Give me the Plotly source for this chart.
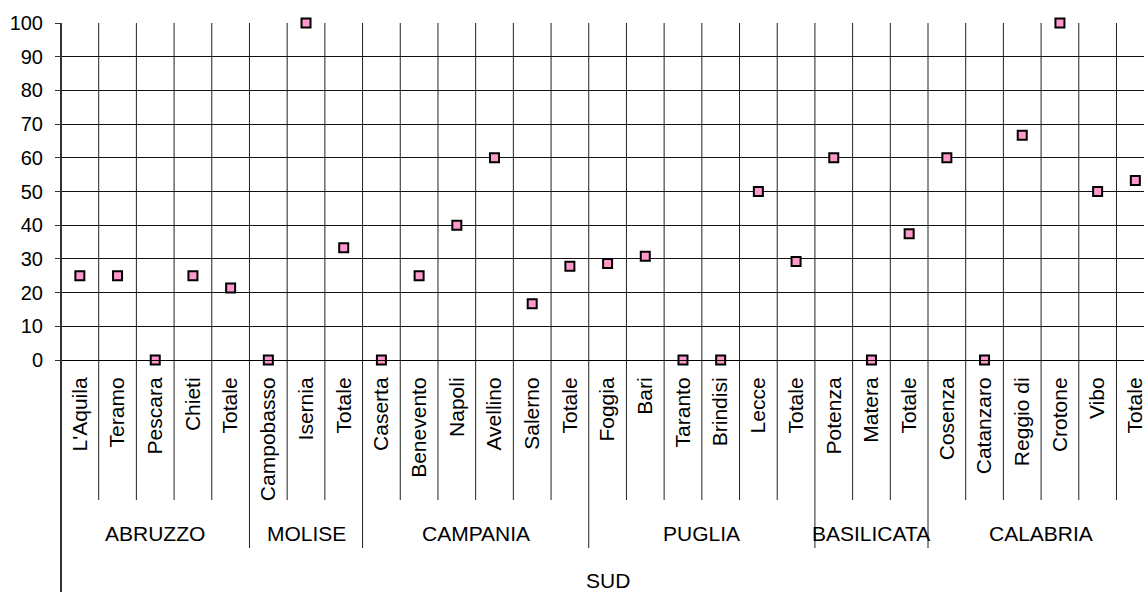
import plotly.graph_objects as go

provinces = ["L'Aquila", "Teramo", "Pescara", "Chieti", "Totale",
             "Campobasso", "Isernia", "Totale",
             "Caserta", "Benevento", "Napoli", "Avellino", "Salerno", "Totale",
             "Foggia", "Bari", "Taranto", "Brindisi", "Lecce", "Totale",
             "Potenza", "Matera", "Totale",
             "Cosenza", "Catanzaro", "Reggio di", "Crotone", "Vibo", "Totale"]
values = [25, 25, 0, 25, 21.4,
          0, 100, 33.3,
          0, 25, 40, 60, 16.7, 27.8,
          28.6, 30.8, 0, 0, 50, 29.2,
          60, 0, 37.5,
          60, 0, 66.7, 100, 50, 53.3]
region_names = ["ABRUZZO", "MOLISE", "CAMPANIA", "PUGLIA", "BASILICATA", "CALABRIA"]
region_sizes = [5, 3, 6, 6, 3, 6]
macro_area = "SUD"
y_ticks = list(range(0, 101, 10))

W, H = 1144, 592
L, T, B = 61, 23, 232
plot_h = H - T - B

def py(pix):  # pixel row -> paper y
    return (H - B - pix) / plot_h

xs = list(range(len(provinces)))
font = "Liberation Sans, Arial, sans-serif"
fs = 21

fig = go.Figure()
fig.add_trace(go.Scatter(
    x=xs, y=values, mode="markers",
    marker=dict(symbol="square", size=9, color="#FF99CC",
                line=dict(color="black", width=2)),
    cliponaxis=False, showlegend=False))

shapes = []
acc = 0
region_bounds = []
for s in region_sizes:
    acc += s
    region_bounds.append(acc - 0.5)
for k in range(1, len(provinces) + 1):
    b = k - 0.5
    low = py(548) if b in region_bounds else py(500)
    shapes.append(dict(type="line", xref="x", yref="paper", x0=b, x1=b,
                       y0=1, y1=low, line=dict(color="#222", width=1), layer="below"))
shapes.append(dict(type="line", xref="paper", yref="paper", x0=0, x1=0,
                   y0=1, y1=py(592), line=dict(color="#333", width=2)))

annotations = []
start = 0
for name, s in zip(region_names, region_sizes):
    c = start + (s - 1) / 2
    annotations.append(dict(x=c, y=py(533), xref="x", yref="paper", text=name,
                            showarrow=False, font=dict(size=fs, color="black", family=font),
                            xanchor="center", yanchor="middle"))
    start += s
annotations.append(dict(x=(len(provinces) - 1) / 2, y=py(580), xref="x", yref="paper",
                        text=macro_area, showarrow=False,
                        font=dict(size=fs, color="black", family=font),
                        xanchor="center", yanchor="middle"))

fig.update_layout(
    width=W, height=H,
    margin=dict(l=L, r=0, t=T, b=B, autoexpand=False),
    paper_bgcolor="white", plot_bgcolor="white",
    shapes=shapes, annotations=annotations,
    font=dict(family=font, color="black"),
    xaxis=dict(range=[-0.5, 28.23], tickmode="array", tickvals=xs, ticktext=provinces,
               tickangle=-90, showgrid=False, zeroline=False, ticks="",
               showline=True, linecolor="black", linewidth=1, automargin=False,
               tickfont=dict(size=fs, family=font, color="black"),
               ticklabelstandoff=8, ticklabeloverflow="allow"),
    yaxis=dict(range=[0, 100], tickmode="array", tickvals=y_ticks,
               showgrid=True, gridcolor="#111", gridwidth=1, zeroline=False,
               ticks="outside", ticklen=5, tickcolor="#333",
               showline=False, automargin=False,
               tickfont=dict(size=20, family=font, color="black"),
               ticklabelstandoff=8),
)

fig.write_html("out.html", config={"displayModeBar": False},
               post_script="document.body.style.margin='0';document.body.style.overflow='hidden';")
